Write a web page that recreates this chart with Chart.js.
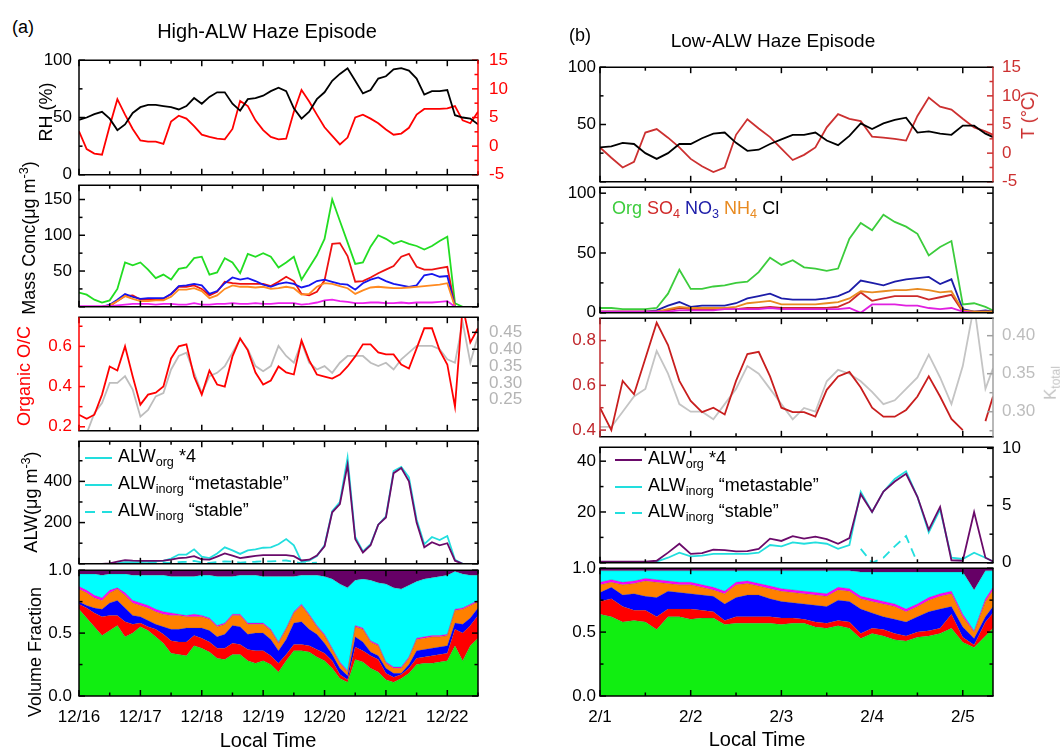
<!DOCTYPE html>
<html>
<head>
<meta charset="utf-8">
<script src="https://cdn.jsdelivr.net/npm/chart.js@4.4.1/dist/chart.umd.min.js"></script>
<style>
  body { margin: 0; background: #fff; }
  #fig { position: relative; width: 1060px; height: 751px; overflow: hidden; background: #fff;
         font-family: 'Liberation Sans', Arial, Helvetica, sans-serif; }
  #fig canvas { position: absolute; }
  .t { position: absolute; white-space: nowrap; line-height: 1; }
  .t sub { font-size: 0.7em; vertical-align: -0.3em; }
  .t sup { font-size: 0.7em; vertical-align: 0.55em; }
  .seg { position: absolute; height: 0; }
</style>
</head>
<body>
<div id="fig"></div>
<script>
// sampling grids (hours from start of each episode)
const HOURS_A = Array.from({ length: 53 }, (_, i) => i * 3);          // 12/16 00:00 .. 12/22 12:00
const HOURS_B = Array.from({ length: 35 }, (_, i) => i * 3).concat([104]); // 2/1 00:00 .. 2/5 08:00
const DAYS_A = ['12/16', '12/17', '12/18', '12/19', '12/20', '12/21', '12/22'];
const DAYS_B = ['2/1', '2/2', '2/3', '2/4', '2/5'];

// ---- (a) High-ALW haze episode ----
const rhA = [48,50,53,55,49,39,44,54,59,61,61,60,59,57,60,67,62,68,72,72,62,56,66,67,69,73,76,73,58,49,55,66,72,82,88,93,82,71,74,84,86,92,93,91,84,70,73,73,74,52,50,49,44];
const tA = [2.6,-0.5,-1.3,-1.5,3.5,8.2,5.5,3.0,1.0,0.8,0.8,0.4,4.3,5.3,4.8,3.5,2.0,1.6,1.3,1.2,3.0,7.9,7.0,4.5,2.8,1.6,1.2,1.3,6.0,9.8,7.8,5.5,3.3,1.8,0.3,1.5,5.0,5.5,4.8,4.0,2.9,2.0,2.2,3.2,5.5,6.5,6.5,6.5,6.6,7.0,4.5,4.0,6.0];
const orgA = [20,17,10,6,9,25,62,58,62,52,40,45,38,53,55,68,70,45,48,68,62,47,74,70,75,70,55,62,70,38,55,72,95,150,120,90,60,62,84,100,95,88,92,88,85,80,85,92,98,5,0,0,0];
const so4A = [0,0,0,0,1,8,15,16,10,10,10,11,18,28,28,30,25,16,21,35,33,32,32,32,32,29,35,42,36,18,16,21,37,88,89,71,35,36,41,47,52,57,70,74,56,52,52,54,56,0,0,0,0];
const no3A = [0,0,0,0,3,10,18,14,11,12,12,12,18,29,30,32,30,18,22,33,41,38,40,36,31,28,32,34,32,27,30,36,38,35,32,31,24,33,38,41,36,32,30,28,30,44,46,42,43,0,0,0,0];
const nh4A = [0,0,0,0,2,8,15,11,8,8,9,9,14,24,24,26,22,12,16,25,30,28,28,27,28,25,26,28,26,17,18,28,33,32,29,26,18,23,27,28,27,26,26,27,28,29,30,31,33,0,0,0,0];
const clA = [1,1,1,1,1,2,3,4,4,4,3,4,4,3,3,5,3,3,4,4,5,4,4,5,4,4,5,5,5,3,4,6,9,10,8,7,5,5,6,6,5,5,6,5,6,6,6,7,8,0,0,0,0];
const ocA = [0.26,0.24,0.26,0.36,0.50,0.48,0.60,0.45,0.31,0.36,0.37,0.40,0.54,0.60,0.61,0.45,0.36,0.48,0.41,0.40,0.55,0.64,0.58,0.47,0.41,0.43,0.50,0.47,0.46,0.63,0.53,0.46,0.45,0.44,0.46,0.50,0.55,0.61,0.61,0.57,0.56,0.56,0.51,0.49,0.59,0.69,0.69,0.58,0.51,0.30,0.80,0.62,0.69];
const kappaA = [null,0.15,0.21,0.24,0.30,0.30,0.32,0.28,0.20,0.22,0.26,0.27,0.34,0.38,0.39,0.33,0.27,0.32,0.33,0.35,0.39,0.43,0.40,0.35,0.335,0.35,0.41,0.38,0.36,0.42,0.36,0.34,0.35,0.33,0.36,0.38,0.38,0.38,0.36,0.35,0.36,0.34,0.37,0.39,0.41,0.41,0.41,0.40,0.37,0.36,0.48,0.36,0.44];
const alwOrgA = [0,0,0,0,2,10,18,15,14,14,14,15,20,28,30,37,22,20,35,50,40,28,33,38,42,42,42,42,37,16,20,40,85,250,290,480,120,55,90,190,225,440,465,400,200,80,105,90,100,15,0,0,0];
const alwMetaA = [0,0,0,0,0,3,8,8,8,10,12,14,25,45,45,70,35,28,50,80,65,48,65,70,78,80,95,120,90,10,15,38,90,255,300,515,130,60,95,190,230,450,470,420,215,95,130,115,135,20,0,0,0];
const alwStableA = [null,null,null,null,null,null,null,2,3,5,6,5,4,8,10,14,6,4,8,12,10,6,9,10,12,12,14,16,10,2,3,6,null,null,null,null,null,null,null,null,null,null,null,null,null,null,null,null,null,null,null,null,null];
// volume fraction, cumulative from the bottom: Org, +SO4, +NO3, +NH4, +Cl, +ALW_inorg (rest = ALW_org)
const vfOrgA = [0.69,0.62,0.55,0.48,0.52,0.56,0.47,0.50,0.55,0.52,0.47,0.42,0.34,0.33,0.32,0.40,0.38,0.35,0.30,0.29,0.33,0.33,0.28,0.26,0.28,0.25,0.19,0.28,0.36,0.36,0.35,0.31,0.28,0.22,0.14,0.11,0.29,0.27,0.22,0.19,0.13,0.11,0.14,0.18,0.25,0.26,0.26,0.27,0.28,0.40,0.28,0.40,0.46];
const vfSo4A = [0.73,0.70,0.66,0.63,0.64,0.64,0.59,0.57,0.58,0.55,0.53,0.49,0.44,0.43,0.43,0.48,0.46,0.43,0.38,0.38,0.42,0.41,0.37,0.36,0.36,0.32,0.26,0.33,0.41,0.41,0.40,0.37,0.34,0.28,0.17,0.13,0.39,0.36,0.32,0.29,0.18,0.15,0.17,0.22,0.30,0.31,0.32,0.33,0.34,0.53,0.50,0.56,0.64];
const vfNo3A = [0.75,0.72,0.70,0.69,0.74,0.76,0.70,0.64,0.63,0.60,0.57,0.55,0.53,0.53,0.54,0.54,0.54,0.52,0.47,0.49,0.56,0.55,0.49,0.50,0.50,0.45,0.36,0.45,0.58,0.59,0.53,0.49,0.42,0.33,0.22,0.16,0.47,0.43,0.35,0.32,0.22,0.18,0.18,0.25,0.36,0.37,0.38,0.39,0.40,0.58,0.57,0.62,0.70];
const vfNh4A = [0.85,0.82,0.78,0.76,0.82,0.85,0.80,0.74,0.72,0.70,0.67,0.65,0.64,0.64,0.63,0.63,0.63,0.61,0.55,0.57,0.64,0.64,0.57,0.57,0.57,0.52,0.42,0.53,0.66,0.72,0.64,0.55,0.48,0.37,0.26,0.19,0.55,0.53,0.43,0.40,0.26,0.22,0.22,0.30,0.45,0.46,0.47,0.47,0.48,0.68,0.69,0.72,0.75];
const vfClA = [0.87,0.84,0.80,0.78,0.84,0.86,0.82,0.76,0.74,0.72,0.69,0.67,0.66,0.65,0.64,0.65,0.64,0.62,0.56,0.58,0.65,0.65,0.58,0.58,0.58,0.53,0.43,0.54,0.67,0.73,0.65,0.56,0.49,0.38,0.27,0.20,0.56,0.54,0.44,0.41,0.27,0.23,0.23,0.31,0.46,0.47,0.48,0.48,0.49,0.69,0.70,0.73,0.76];
const vfInorgA = [0.97,0.97,0.97,0.96,0.97,0.97,0.97,0.96,0.96,0.96,0.96,0.96,0.95,0.95,0.95,0.95,0.96,0.96,0.95,0.95,0.95,0.96,0.96,0.96,0.95,0.95,0.95,0.95,0.95,0.96,0.96,0.96,0.95,0.93,0.89,0.86,0.92,0.93,0.92,0.90,0.89,0.86,0.85,0.88,0.91,0.93,0.94,0.95,0.96,0.99,0.97,0.96,0.96];

// ---- (b) Low-ALW haze episode ----
const rhB = [30,31,34,33,25,20,25,33,33,38,42,43,34,27,28,33,37,41,41,43,36,32,40,51,46,51,54,56,43,44,42,41,49,49,42,39];
const tB = [1.0,-0.8,-2.5,-1.5,3.6,4.2,2.7,1.0,-1.0,-2.3,-3.3,-2.5,3.2,5.9,4.3,2.8,0.8,-1.2,-0.3,1.0,4.5,6.8,6.0,5.6,2.9,2.7,2.5,2.2,6.5,9.7,8.1,7.6,6.0,4.5,3.8,3.2];
const orgB = [4,4,3,3,3,4,16,36,20,20,22,23,25,26,34,46,40,44,38,37,35,37,62,75,69,82,76,72,66,48,55,60,7,8,5,2];
const so4B = [1,1,1,1,1,1,2,4,3,3,3,3,3,4,4,5,4,4,4,4,4,5,9,17,10,12,14,14,14,11,13,15,1,1,1,1];
const no3B = [1,1,1,1,1,2,6,9,5,6,6,6,8,12,14,16,12,11,11,11,12,14,18,27,25,23,26,28,29,30,24,28,3,1,2,1];
const nh4B = [1,1,1,1,1,1,3,5,4,4,4,4,5,8,9,10,7,7,7,7,8,9,12,18,17,18,19,19,20,19,17,18,2,1,1,1];
const clB = [1,1,1,1,1,1,1,2,2,2,2,3,3,3,3,4,3,3,3,3,3,3,4,0,7,7,7,6,6,4,3,4,1,0,0,0];
const ocB = [0.50,0.40,0.62,0.56,0.72,0.88,0.78,0.62,0.53,0.48,0.50,0.47,0.62,0.74,0.75,0.64,0.50,0.48,0.48,0.46,0.58,0.64,0.66,0.59,0.50,0.46,0.46,0.49,0.55,0.64,0.55,0.45,0.40,null,0.44,0.55];
const kappaB = [0.28,0.28,0.30,0.32,0.33,0.38,0.35,0.31,0.30,0.30,0.29,0.31,0.33,0.36,0.35,0.33,0.31,0.29,0.305,0.30,0.34,0.355,0.35,0.34,0.326,0.31,0.315,0.33,0.345,0.375,0.345,0.31,0.36,0.44,0.33,0.357];
const alwOrgB = [0.5,0.5,0.5,0.5,0.5,0.8,4,7.5,3.5,3.8,5.2,5.0,4.5,4.6,5.5,9.5,8.6,10.5,9.5,10.3,9.3,7.5,9.7,27,20,28,32,35,26,13,22,1,0.8,20,2,0.5];
const alwMetaB = [0,0,0,0,0,0.5,2,4,2.5,2.8,3.5,3.5,3.5,3.5,4,7,6.5,8,7.5,8,7.5,5.5,7,28,20,28,33,36,26,12,21,2,1.5,4,2,0.5];
const alwStableB = [null,null,null,null,null,null,null,null,null,null,null,null,null,null,null,null,null,null,null,null,null,null,null,5.5,0,2,6.5,10.5,0,null,null,null,null,null,null,null];
const vfOrgB = [0.64,0.62,0.58,0.59,0.58,0.52,0.62,0.62,0.60,0.61,0.61,0.56,0.57,0.57,0.57,0.57,0.56,0.57,0.57,0.54,0.53,0.55,0.53,0.45,0.49,0.47,0.44,0.43,0.46,0.47,0.49,0.53,0.42,0.38,0.47,0.53];
const vfSo4B = [0.74,0.76,0.70,0.67,0.67,0.62,0.68,0.68,0.68,0.67,0.66,0.59,0.62,0.62,0.62,0.62,0.61,0.61,0.60,0.58,0.57,0.59,0.58,0.49,0.53,0.52,0.49,0.47,0.50,0.51,0.53,0.64,0.46,0.40,0.58,0.65];
const vfNo3B = [0.81,0.85,0.79,0.80,0.78,0.77,0.82,0.81,0.80,0.79,0.78,0.72,0.77,0.79,0.79,0.76,0.74,0.73,0.72,0.71,0.70,0.75,0.74,0.68,0.65,0.62,0.60,0.58,0.62,0.66,0.68,0.70,0.54,0.45,0.62,0.70];
const vfNh4B = [0.87,0.89,0.87,0.88,0.90,0.89,0.88,0.87,0.87,0.85,0.83,0.80,0.87,0.88,0.86,0.84,0.82,0.81,0.80,0.79,0.78,0.83,0.82,0.76,0.74,0.72,0.70,0.66,0.70,0.75,0.78,0.80,0.62,0.50,0.74,0.83];
const vfClB = [0.89,0.91,0.89,0.90,0.92,0.91,0.90,0.89,0.89,0.87,0.85,0.82,0.89,0.90,0.88,0.86,0.84,0.83,0.82,0.81,0.80,0.85,0.84,0.78,0.76,0.74,0.72,0.68,0.72,0.77,0.80,0.82,0.64,0.51,0.76,0.85];
const vfInorgB = [0.98,0.98,0.98,0.98,0.98,0.98,0.98,0.98,0.98,0.98,0.98,0.98,0.98,0.98,0.98,0.98,0.98,0.98,0.98,0.98,0.98,0.98,0.98,0.97,0.97,0.97,0.97,0.97,0.97,0.97,0.97,0.97,0.97,0.83,0.98,0.98];

const FONT = "'Liberation Sans', Arial, Helvetica, sans-serif";
Chart.defaults.font.family = FONT;
Chart.defaults.color = '#000';
const fig = document.getElementById('fig');

const COLS = {
  a: { left: 0, width: 530, plotL: 79, plotR: 478, tops: [53, 182, 310, 438, 567, 696],
       hours: HOURS_A, xMax: 156 / 24, days: DAYS_A, lpad: 7, rpad: 11 },
  b: { left: 530, width: 530, plotL: 70, plotR: 463, tops: [62, 187, 313, 442, 568, 696],
       hours: HOURS_B, xMax: 104 / 24, days: DAYS_B, lpad: 4, rpad: 9 }
};

function pts(hours, vals) {
  return hours.map((h, i) => ({ x: h / 24, y: vals[i] }));
}
function ln(col, vals, color, extra) {
  return Object.assign({ data: pts(COLS[col].hours, vals), borderColor: color, borderWidth: 1.8,
    pointRadius: 0, tension: 0, fill: false, spanGaps: false }, extra || {});
}
function stack(col, layers, topColor) {
  const hours = COLS[col].hours;
  const sets = layers.map(([vals, color], i) => ({
    data: pts(hours, vals), backgroundColor: color, borderColor: 'rgba(70,70,70,0.45)', borderWidth: 0.6,
    pointRadius: 0, tension: 0, fill: i === 0 ? 'origin' : '-1'
  }));
  // organic water fills from the last boundary up to 1.0
  sets.push({ data: pts(hours, layers[layers.length - 1][0]), backgroundColor: topColor, borderWidth: 0,
    pointRadius: 0, tension: 0, fill: 'end' });
  return sets;
}

function yAxis(ax, pos, width, pad) {
  return {
    type: 'linear', position: pos, min: ax.min, max: ax.max,
    grid: { display: false, drawTicks: false }, border: { display: false },
    afterBuildTicks: s => { s.ticks = ax.labels.map(v => ({ value: v })); },
    afterFit: s => { s.width = width; },
    ticks: { autoSkip: false, padding: pad, color: ax.color || '#000', font: { size: 17 },
      callback: v => ax.fmt != null ? Number(v).toFixed(ax.fmt) : String(v) }
  };
}

function drawFrame(chart, spec, c) {
  const { ctx, chartArea: a, scales } = chart;
  const L = a.left, R = a.right, T = a.top, B = a.bottom;
  ctx.save();
  ctx.lineWidth = 1.5;
  const seg = (x1, y1, x2, y2, col) => {
    ctx.strokeStyle = col; ctx.beginPath(); ctx.moveTo(x1, y1); ctx.lineTo(x2, y2); ctx.stroke();
  };
  c.days.forEach((_, d) => {
    [d, d + 0.5].forEach((v, k) => {
      if (v > c.xMax + 1e-6) return;
      const px = scales.x.getPixelForValue(v), len = k ? 3.5 : 6;
      seg(px, T, px, T + len, '#000');
      seg(px, B, px, B - len, '#000');
    });
  });
  const yTicks = (ax, scale, x, dir, col) => {
    ax.major.forEach(v => { const py = scale.getPixelForValue(v); seg(x, py, x + dir * 6, py, col); });
    (ax.minor || []).forEach(v => { const py = scale.getPixelForValue(v); seg(x, py, x + dir * 3.5, py, col); });
  };
  const lc = spec.left.axis || '#000';
  const rc = spec.right ? (spec.right.axis || '#000') : '#000';
  yTicks(spec.left, scales.y, L, 1, lc);
  if (spec.right) yTicks(spec.right, scales.y2, R, -1, rc);
  else yTicks(spec.left, scales.y, R, -1, '#000');
  seg(L - 0.75, T, R + 0.75, T, '#000');
  seg(L - 0.75, B, R + 0.75, B, '#000');
  seg(L, T, L, B, lc);
  seg(R, T, R, B, rc);
  ctx.restore();
}

function makePanel(col, row, spec) {
  const c = COLS[col];
  const top = c.tops[row], bottom = c.tops[row + 1];
  const last = row === 4;
  const padT = 14, padB = last ? 52 : 14, xH = last ? 36 : 0;
  const cv = document.createElement('canvas');
  cv.width = c.width;
  cv.height = bottom - top + padT + padB;
  cv.style.left = c.left + 'px';
  cv.style.top = (top - padT) + 'px';
  fig.appendChild(cv);
  const scales = {
    x: {
      type: 'linear', min: 0, max: c.xMax,
      grid: { display: false, drawTicks: false }, border: { display: false },
      afterBuildTicks: s => { s.ticks = c.days.map((_, i) => ({ value: i })); },
      afterFit: s => { s.height = xH; },
      ticks: { display: last, autoSkip: false, maxRotation: 0, padding: 11, font: { size: 17 },
        callback: v => c.days[Math.round(v)] }
    },
    y: yAxis(spec.left, 'left', c.plotL, c.lpad)
  };
  if (spec.right) scales.y2 = yAxis(spec.right, 'right', c.width - c.plotR, c.rpad);
  return new Chart(cv, {
    type: 'line',
    data: { datasets: spec.datasets },
    options: {
      responsive: false, animation: false, events: [],
      layout: { padding: { left: 0, right: spec.right ? 0 : c.width - c.plotR, top: padT, bottom: padB - xH } },
      plugins: { legend: { display: false }, tooltip: { enabled: false } },
      scales
    },
    plugins: [{ id: 'frame', afterDraw: ch => drawFrame(ch, spec, c) }]
  });
}

const PURPLE = '#6a0a6a', CYAN = '#22dede';

// ---------- column (a) ----------
makePanel('a', 0, {
  left: { min: 0, max: 100, labels: [0, 50, 100], major: [0, 50, 100], minor: [25, 75] },
  right: { min: -5, max: 15, labels: [-5, 0, 5, 10, 15], major: [-5, 0, 5, 10, 15], minor: [-2.5, 2.5, 7.5, 12.5], color: '#ff0000', axis: '#ff0000' },
  datasets: [ln('a', rhA, '#000'), ln('a', tA, '#ff0000', { yAxisID: 'y2' })]
});
makePanel('a', 1, {
  left: { min: 0, max: 170, labels: [50, 100, 150], major: [0, 50, 100, 150], minor: [25, 75, 125] },
  datasets: [ln('a', clA, '#ee22ee'), ln('a', nh4A, '#ff8a20'), ln('a', no3A, '#1515ee'), ln('a', so4A, '#ee1111'), ln('a', orgA, '#22dd22')]
});
makePanel('a', 2, {
  left: { min: 0.18, max: 0.745, labels: [0.2, 0.4, 0.6], fmt: 1, major: [0.2, 0.4, 0.6], minor: [0.3, 0.5, 0.7], color: '#ff0000', axis: '#ff0000' },
  right: { min: 0.158, max: 0.495, labels: [0.25, 0.3, 0.35, 0.4, 0.45], fmt: 2, major: [0.25, 0.3, 0.35, 0.4, 0.45], color: '#b4b4b4' },
  datasets: [ln('a', ocA, '#ff0000'), ln('a', kappaA, '#bdbdbd', { yAxisID: 'y2' })]
});
makePanel('a', 3, {
  left: { min: 0, max: 595, labels: [200, 400], major: [0, 200, 400], minor: [100, 300, 500] },
  datasets: [ln('a', alwOrgA, PURPLE), ln('a', alwMetaA, CYAN), ln('a', alwStableA, CYAN, { borderDash: [9, 6] })]
});
makePanel('a', 4, {
  left: { min: 0, max: 1, labels: [0, 0.5, 1], fmt: 1, major: [0, 0.5, 1], minor: [0.25, 0.75] },
  datasets: stack('a', [[vfOrgA, '#11ee11'], [vfSo4A, '#ff0000'], [vfNo3A, '#0000ff'], [vfNh4A, '#ff8000'],
    [vfClA, '#ff00ff'], [vfInorgA, '#00ffff']], '#660066')
});

// ---------- column (b) ----------
makePanel('b', 0, {
  left: { min: 0, max: 100, labels: [50, 100], major: [0, 50, 100], minor: [25, 75] },
  right: { min: -5, max: 15, labels: [-5, 0, 5, 10, 15], major: [-5, 0, 5, 10, 15], minor: [-2.5, 2.5, 7.5, 12.5], color: '#cc3030', axis: '#cc3030' },
  datasets: [ln('b', rhB, '#000'), ln('b', tB, '#cc3030', { yAxisID: 'y2' })]
});
makePanel('b', 1, {
  left: { min: 0, max: 105, labels: [0, 50, 100], major: [0, 50, 100], minor: [25, 75] },
  datasets: [ln('b', clB, '#e020e0'), ln('b', nh4B, '#e88a20'), ln('b', so4B, '#cc2a2a'), ln('b', no3B, '#1c1ca8'), ln('b', orgB, '#3ccc3c')]
});
makePanel('b', 2, {
  left: { min: 0.37, max: 0.9, labels: [0.4, 0.6, 0.8], fmt: 1, major: [0.4, 0.6, 0.8], minor: [0.5, 0.7], color: '#c0282d', axis: '#c0282d' },
  right: { min: 0.267, max: 0.423, labels: [0.3, 0.35, 0.4], fmt: 2, major: [0.3, 0.35, 0.4], minor: [0.275, 0.325, 0.375], color: '#bdbdbd', axis: '#a0a0a0' },
  datasets: [ln('b', ocB, '#c81e1e'), ln('b', kappaB, '#c4c4c4', { yAxisID: 'y2' })]
});
makePanel('b', 3, {
  left: { min: 0, max: 45.5, labels: [20, 40], major: [0, 20, 40], minor: [10, 30] },
  right: { min: 0, max: 10.1, labels: [0, 5, 10], major: [0, 5, 10], minor: [2.5, 7.5] },
  datasets: [ln('b', alwOrgB, PURPLE), ln('b', alwMetaB, CYAN), ln('b', alwStableB, CYAN, { borderDash: [9, 6] })]
});
makePanel('b', 4, {
  left: { min: 0, max: 1, labels: [0, 0.5, 1], fmt: 1, major: [0, 0.5, 1], minor: [0.25, 0.75] },
  datasets: stack('b', [[vfOrgB, '#11ee11'], [vfSo4B, '#ff0000'], [vfNo3B, '#0000ff'], [vfNh4B, '#ff8000'],
    [vfClB, '#ff00ff'], [vfInorgB, '#00ffff']], '#660066')
});

// ---------- texts ----------
function label(html, x, y, o) {
  o = o || {};
  const d = document.createElement('div');
  d.className = 't';
  d.innerHTML = html;
  d.style.left = x + 'px';
  d.style.top = y + 'px';
  d.style.fontSize = (o.size || 18) + 'px';
  d.style.color = o.color || '#000';
  d.style.transform = o.left ? 'translate(0,-50%)' : 'translate(-50%,-50%)' + (o.rot ? ' rotate(-90deg)' : '');
  fig.appendChild(d);
}
function segment(x, y, w, color) {
  const s = document.createElement('div');
  s.className = 'seg';
  s.style.cssText += `left:${x}px;top:${y - 1}px;width:${w}px;border-top:2px solid ${color};`;
  fig.appendChild(s);
}
function legendRow(x, y, color, dashed, html, size) {
  if (dashed) { segment(x, y, 10, color); segment(x + 17, y, 10, color); }
  else segment(x, y, 27, color);
  label(html, x + 33, y, { left: true, size: size });
}

label('(a)', 23, 27, { size: 18 });
label('High-ALW Haze Episode', 267, 31, { size: 20 });
label('(b)', 580, 35, { size: 18 });
label('Low-ALW Haze Episode', 773, 40, { size: 19 });

label('RH (%)', 46, 112, { rot: true });
label('Mass Conc(μg m<sup>-3</sup>)', 28, 238, { rot: true });
label('Organic O/C', 24, 376, { rot: true, color: '#ff0000' });
label('ALW(μg m<sup>-3</sup>)', 30, 502, { rot: true });
label('Volume Fraction', 35, 652, { rot: true });
label('T (°C)', 1028, 115, { rot: true, color: '#cc3030', size: 18 });
label('K<sub>total</sub>', 1052, 383, { rot: true, color: '#c4c4c4', size: 17 });

label('Local Time', 268, 740, { size: 20 });
label('Local Time', 757, 739, { size: 20 });

legendRow(85, 458, CYAN, false, 'ALW<sub>org</sub> *4', 18);
legendRow(85, 485, CYAN, false, 'ALW<sub>inorg</sub> “metastable”', 18);
legendRow(85, 512, CYAN, true, 'ALW<sub>inorg</sub> “stable”', 18);
legendRow(615, 460, PURPLE, false, 'ALW<sub>org</sub> *4', 18);
legendRow(615, 487, CYAN, false, 'ALW<sub>inorg</sub> “metastable”', 18);
legendRow(615, 513, CYAN, true, 'ALW<sub>inorg</sub> “stable”', 18);

label('<span style="color:#3ccc3c">Org</span> <span style="color:#d02a2a">SO<sub>4</sub></span> ' +
  '<span style="color:#1c1ca8">NO<sub>3</sub></span> <span style="color:#e88a20">NH<sub>4</sub></span> Cl',
  612, 210, { left: true, size: 18 });
</script>
</body>
</html>
